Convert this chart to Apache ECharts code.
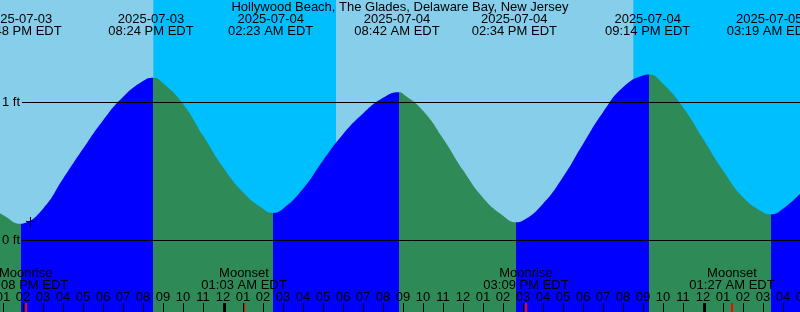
<!DOCTYPE html>
<html><head><meta charset="utf-8">
<script src="https://cdn.jsdelivr.net/npm/echarts@6.0.0/dist/echarts.min.js"></script>
<style>html,body{margin:0;padding:0;background:#fff}#c{width:800px;height:312px}</style>
</head><body><div id="c"></div><script>
// ---------- data ----------
const titleText = 'Hollywood Beach, The Glades, Delaware Bay, New Jersey';
const originDate = '2025-07-03', originTime = '01:00 PM';   // first hour tick ("01")

const tideDates = ['2025-07-03','2025-07-03','2025-07-04','2025-07-04','2025-07-04','2025-07-04','2025-07-05'];
const tideTimes = ['01:48 PM EDT','08:24 PM EDT','02:23 AM EDT','08:42 AM EDT','02:34 PM EDT','09:14 PM EDT','03:19 AM EDT'];

const moonNames = ['Moonrise','Moonset','Moonrise','Moonset'];
const moonDates = ['2025-07-03','2025-07-04','2025-07-04','2025-07-05'];
const moonTimes = ['02:08 PM EDT','01:03 AM EDT','03:09 PM EDT','01:27 AM EDT'];

const sunDates = ['2025-07-03','2025-07-04','2025-07-04'];
const sunTimes = ['08:31 PM','05:39 AM','08:31 PM'];
const sunKinds = ['set','rise','set'];

const midnightDates = ['2025-07-04','2025-07-05'];

// tide height (ft), hours after 2025-07-03 01:00 PM
const curveHours = [-0.15,0,0.885,1,2,3,4,5,6,7,7.485,8,9,10,11,12,13,13.485,14,15,16,17,18,19,19.8,20,21,22,23,24,25,25.65,26,27,28,29,30,31,32,32.32,33,34,35,36,37,38,38.385,39,39.85];
const curveFeet  = [0.198,0.185,0.121,0.123,0.23,0.447,0.664,0.87,1.04,1.155,1.179,1.14,0.99,0.76,0.53,0.35,0.23,0.20,0.23,0.375,0.58,0.77,0.92,1.034,1.075,1.063,0.94,0.74,0.51,0.31,0.18,0.133,0.145,0.266,0.46,0.70,0.93,1.11,1.196,1.203,1.135,0.966,0.737,0.507,0.314,0.205,0.19,0.23,0.338];

const hourLabels = ['12','01','02','03','04','05','06','07','08','09','10','11',
                    '12','01','02','03','04','05','06','07','08','09','10','11',
                    '12','01','02','03','04','05','06','07','08','09','10','11',
                    '12','01','02','03','04','05'];   // hours -1 .. 40
const levelLines = [0, 1];
const levelUnit = 'ft';
const nowHours = [1.35];
const nowFeet = [0.143];

// ---------- helpers ----------
const baseMs = (function(){ const [y,m,d] = originDate.split('-').map(Number); return Date.UTC(y, m-1, d, 13, 0); })();
function hoursFrom(date, time) {
  const [y, m, d] = date.split('-').map(Number);
  const mm = time.match(/(\d+):(\d+)\s*(AM|PM)/);
  let hr = (+mm[1]) % 12; if (mm[3] === 'PM') hr += 12;
  return (Date.UTC(y, m - 1, d, hr, +mm[2]) - baseMs) / 3600000;
}

const COL_RISE = '#0000ff', COL_FALL = '#2e8b57', COL_DAY = '#87ceeb', COL_NIGHT = '#00bfff';
const FONT_FAMILY = '"Liberation Sans", Arial, sans-serif';
const FS = 13;
const FONT = FS + 'px ' + FONT_FAMILY;
const X_MIN = -1, X_MAX = 40;
const Y_MIN = -0.518116, Y_MAX = 1.742754;

const tideHours = tideDates.map((d, i) => hoursFrom(d, tideTimes[i]));
const moonHours = moonDates.map((d, i) => hoursFrom(d, moonTimes[i]));
const sunHours = sunDates.map((d, i) => hoursFrom(d, sunTimes[i]));
const midnightHours = midnightDates.map(d => hoursFrom(d, '12:00 AM'));

// sky intervals
const skyData = [];
{
  const b = [X_MIN].concat(sunHours, [X_MAX]);
  for (let i = 0; i < b.length - 1; i++) {
    const night = i === 0 ? (sunKinds[0] === 'rise') : (sunKinds[i - 1] === 'set');
    skyData.push([b[i], b[i + 1], night ? 1 : 0]);
  }
}
// rising / falling pieces from the turning points of the curve
const pieces = [];
{
  let lastTurn = null;
  for (let i = 1; i < curveFeet.length - 1; i++) {
    const d1 = curveFeet[i] - curveFeet[i - 1], d2 = curveFeet[i + 1] - curveFeet[i];
    if (d1 * d2 < 0) {
      const p = { color: d1 > 0 ? COL_RISE : COL_FALL, lt: curveHours[i] };
      if (lastTurn !== null) p.gte = lastTurn;
      pieces.push(p);
      lastTurn = curveHours[i];
    }
  }
  const n = curveFeet.length;
  pieces.push({ gte: lastTurn, color: curveFeet[n - 1] > curveFeet[n - 2] ? COL_RISE : COL_FALL });
}

function txt(text, x, y, align) {
  return { type: 'text', style: { text, x, y, align: align || 'center', textAlign: align || 'center',
    verticalAlign: 'middle', textVerticalAlign: 'middle', font: FONT, fill: '#000' } };
}

const chart = echarts.init(document.getElementById('c'), null, { renderer: 'canvas' });
chart.setOption({
  animation: false,
  backgroundColor: COL_DAY,
  title: { text: titleText, left: 'center', top: 1, padding: 0,
    textStyle: { fontSize: FS, fontWeight: 'normal', color: '#000', fontFamily: FONT_FAMILY } },
  grid: { left: -17, right: -3, top: 0, bottom: 0, containLabel: false, outerBoundsMode: 'none' },
  xAxis: { type: 'value', min: X_MIN, max: X_MAX, interval: 1, z: 10, position: 'bottom',
    axisLine: { show: false, onZero: false }, splitLine: { show: false },
    axisTick: { inside: true, length: 9, lineStyle: { color: '#000', width: 1 } },
    axisLabel: { inside: true, margin: 14.5, verticalAlign: 'middle', color: '#000',
      fontSize: FS, fontFamily: FONT_FAMILY, showMinLabel: true, showMaxLabel: true,
      formatter: v => hourLabels[Math.round(v - X_MIN)] } },
  yAxis: { type: 'value', min: Y_MIN, max: Y_MAX, show: false, splitLine: { show: false } },
  visualMap: { type: 'piecewise', show: false, dimension: 0, seriesIndex: 1, pieces },
  series: [
    { type: 'custom', z: 0, silent: true, data: skyData,
      renderItem: (params, api) => {
        const cs = params.coordSys;
        const x1 = api.coord([api.value(0), 0])[0], x2 = api.coord([api.value(1), 0])[0];
        return { type: 'rect', shape: { x: x1, y: cs.y, width: x2 - x1, height: cs.height },
          style: { fill: api.value(2) ? COL_NIGHT : COL_DAY } };
      } },
    { type: 'line', z: 2, silent: true, smooth: 0.5, showSymbol: false, symbol: 'none',
      data: curveHours.map((h, i) => [h, curveFeet[i]]),
      lineStyle: { width: 0 }, areaStyle: { opacity: 1, origin: 'start' } },
    { type: 'custom', z: 3, silent: true, data: levelLines.map(v => [0, v]),
      renderItem: (params, api) => {
        const cs = params.coordSys;
        const y = Math.round(api.coord([0, api.value(1)])[1] - 0.5) + 0.5;
        return { type: 'group', children: [
          { type: 'line', shape: { x1: 22, y1: y, x2: cs.x + cs.width, y2: y }, style: { stroke: '#000', lineWidth: 1 } },
          txt(api.value(1) + ' ' + levelUnit, 20, y, 'right') ] };
      } },
    { type: 'custom', z: 4, silent: true, data: tideHours.map((h, i) => [h, i]),
      renderItem: (params, api) => {
        const i = api.value(1); const x = api.coord([api.value(0), 0])[0];
        return { type: 'group', children: [ txt(tideDates[i], x, 19.5), txt(tideTimes[i], x, 31.5) ] };
      } },
    { type: 'custom', z: 4, silent: true, data: moonHours.map((h, i) => [h, i]),
      renderItem: (params, api) => {
        const cs = params.coordSys;
        const i = api.value(1); const x = api.coord([api.value(0), 0])[0];
        const yb = cs.y + cs.height;
        return { type: 'group', children: [ txt(moonNames[i], x, 273.5), txt(moonTimes[i], x, 285),
          { type: 'rect', shape: { x: Math.round(x) - 1, y: yb - 9, width: 2, height: 9 }, style: { fill: '#ff0000' } } ] };
      } },
    { type: 'custom', z: 4, silent: true, data: midnightHours.map(h => [h, 0]),
      renderItem: (params, api) => {
        const cs = params.coordSys;
        const x = Math.round(api.coord([api.value(0), 0])[0] - 0.5);
        const yb = cs.y + cs.height;
        return { type: 'rect', shape: { x: x, y: yb - 9, width: 3, height: 9 }, style: { fill: '#000' } };
      } },
    { type: 'custom', z: 5, silent: true, data: nowHours.map((h, i) => [h, nowFeet[i]]),
      renderItem: (params, api) => {
        const p = api.coord([api.value(0), api.value(1)]);
        const cx = Math.round(p[0]) + 0.5, cy = Math.round(p[1]) + 0.5;
        return { type: 'group', children: [
          { type: 'line', shape: { x1: cx - 4.5, y1: cy, x2: cx + 4.5, y2: cy }, style: { stroke: '#000', lineWidth: 1 } },
          { type: 'line', shape: { x1: cx, y1: cy - 4.5, x2: cx, y2: cy + 4.5 }, style: { stroke: '#000', lineWidth: 1 } } ] };
      } }
  ]
});
</script></body></html>
